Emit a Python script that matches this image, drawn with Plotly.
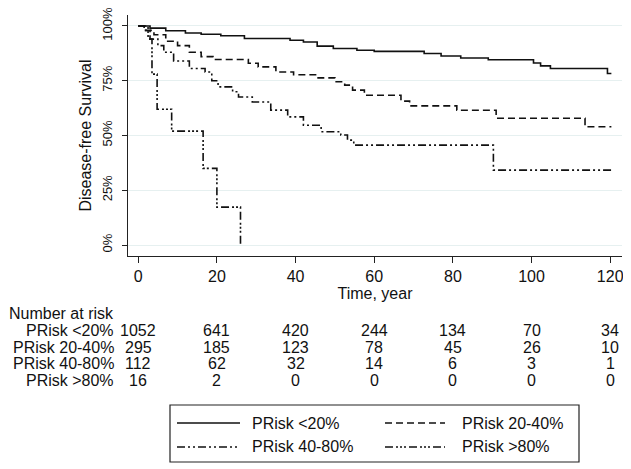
import plotly.graph_objects as go

# ---- data ----
t_lt20 = [0, 3, 7, 12, 16, 21, 27, 38.6, 42, 45.5, 49.6, 55.6, 60, 72.7, 77, 82, 89, 100.5, 102.3, 104.8, 119.3, 120.3]
s_lt20 = [100, 99, 97.8, 96.8, 96.2, 95.5, 94.3, 93.5, 92.7, 90.8, 89.7, 88.9, 88.4, 87.4, 86.3, 85.4, 84.6, 83.1, 81.8, 80.6, 78.3, 78.3]

t_2040 = [0, 1.5, 4, 7, 10, 13, 16, 19, 28, 30.5, 35, 39.5, 45.5, 50, 52.5, 54.5, 57.5, 66.8, 69, 81, 91, 113.6, 120.3]
s_2040 = [100, 98, 96, 93, 91, 88, 86, 84.7, 83, 81.3, 79, 77.7, 76.3, 74.5, 73, 70.7, 68.4, 65.7, 63.5, 61.5, 57.9, 54, 54]

t_4080 = [0, 1.5, 3, 5, 6.5, 9, 13, 17, 18.7, 20.3, 24, 25.5, 29, 33.7, 38, 42, 46.5, 51.5, 53.2, 54.8, 90.3, 120.3]
s_4080 = [100, 98, 94, 91, 88, 84, 80.6, 79, 75, 72.2, 70, 67.6, 65.3, 61.6, 58.5, 54.7, 51.7, 50.2, 47.9, 45.6, 34.2, 34.2]

t_gt80 = [0, 2.5, 3.5, 4.8, 8.5, 16.5, 20, 26]
s_gt80 = [100, 94, 78, 62, 52, 35, 17.3, 0]

groups = ["PRisk <20%", "PRisk 20-40%", "PRisk 40-80%", "PRisk >80%"]
risk_times = [0, 20, 40, 60, 80, 100, 120]
risk_lt20 = [1052, 641, 420, 244, 134, 70, 34]
risk_2040 = [295, 185, 123, 78, 45, 26, 10]
risk_4080 = [112, 62, 32, 14, 6, 3, 1]
risk_gt80 = [16, 2, 0, 0, 0, 0, 0]

y_ticks = [0, 25, 50, 75, 100]
y_ticklabels = ["0%", "25%", "50%", "75%", "100%"]
x_ticks = [0, 20, 40, 60, 80, 100, 120]

# ---- styles ----
FONT = "Liberation Sans, Arial, sans-serif"
dashes = ["solid", "7px,4px", "8px,3px,2px,3px,2px,3px", "8px,3px,2px,2px,2px,2px,2px,3px"]
series = [(t_lt20, s_lt20), (t_2040, s_2040), (t_4080, s_4080), (t_gt80, s_gt80)]
risks = [risk_lt20, risk_2040, risk_4080, risk_gt80]

# page body has an 8px margin; work in reference-screen pixels and convert
OFF = 8
W, H = 631 - OFF, 469 - OFF
PLOT_L, PLOT_R, PLOT_T, PLOT_B = 128, 622, 15, 256          # screen pixels of plot area
ML, MR, MT, MB = PLOT_L - OFF, W - (PLOT_R - OFF), PLOT_T - OFF, H - (PLOT_B - OFF)
PW, PH = PLOT_R - PLOT_L, PLOT_B - PLOT_T


def px(xs):
    return (xs - PLOT_L) / PW


def py(ys):
    return (PLOT_B - ys) / PH


fig = go.Figure()
for (t, s), name, d in zip(series, groups, dashes):
    fig.add_trace(go.Scatter(x=t, y=s, mode="lines", name=name, line_shape="hv",
                             line=dict(color="#111111", width=1.6, dash=d), showlegend=False))

annotations = []
shapes = []

# number at risk table
annotations.append(dict(text="Number at risk", xref="paper", yref="paper", x=px(7), y=py(313),
                        xanchor="left", yanchor="middle", showarrow=False, font=dict(size=16)))
row_y = [330, 347, 363, 380]
for name, r, ry in zip(groups, risks, row_y):
    annotations.append(dict(text=name, xref="paper", yref="paper", x=px(116), y=py(ry),
                            xanchor="right", yanchor="middle", showarrow=False, font=dict(size=16)))
    for tt, v in zip(risk_times, r):
        annotations.append(dict(text=str(v), xref="x", yref="paper", x=tt, y=py(ry),
                                xanchor="center", yanchor="middle", showarrow=False, font=dict(size=16)))

# legend box (manual)
shapes.append(dict(type="rect", xref="paper", yref="paper", x0=px(170), x1=px(579), y0=py(405), y1=py(462),
                   line=dict(color="#222222", width=1.2), fillcolor="white"))
leg_pos = [(177, 240, 250, 423), (385, 445, 460, 423), (177, 240, 250, 447), (385, 445, 460, 447)]
for (x0, x1, xt, yy), name, d in zip(leg_pos, groups, dashes):
    shapes.append(dict(type="line", xref="paper", yref="paper", x0=px(x0), x1=px(x1), y0=py(yy), y1=py(yy),
                       line=dict(color="#111111", width=1.6, dash=d)))
    annotations.append(dict(text=name, xref="paper", yref="paper", x=px(xt), y=py(yy),
                            xanchor="left", yanchor="middle", showarrow=False, font=dict(size=16)))

fig.update_layout(
    width=W, height=H,
    margin=dict(l=ML, r=MR, t=MT, b=MB, autoexpand=False),
    paper_bgcolor="white", plot_bgcolor="white",
    font=dict(family=FONT, size=16, color="#111111"),
    showlegend=False,
    annotations=annotations,
    shapes=shapes,
    xaxis=dict(range=[-2.6, 123], tickvals=x_ticks, ticks="outside", ticklen=6, tickcolor="#222",
               showline=True, linecolor="#222", linewidth=1.2, showgrid=False, zeroline=False,
               tickfont=dict(size=16), automargin=False,
               title=dict(text="Time, year", font=dict(size=16), standoff=2)),
    yaxis=dict(range=[-5, 105], tickvals=y_ticks, ticktext=y_ticklabels, tickangle=-90,
               ticks="outside", ticklen=5, tickcolor="#222", ticklabelstandoff=5,
               ticklabeloverflow="allow",
               showline=True, linecolor="#222", linewidth=1.2, showgrid=True, gridcolor="#e6f0f0",
               gridwidth=1, zeroline=False, tickfont=dict(size=13), automargin=False,
               title=dict(text="Disease-free Survival", font=dict(size=16), standoff=4)),
)

fig.write_html("out.html")
